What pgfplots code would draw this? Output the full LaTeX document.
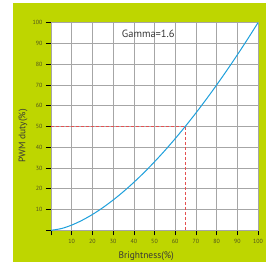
\documentclass[border=0pt]{standalone}
\usepackage{pgfplots}
\pgfplotsset{compat=1.18}
\usepackage{fontspec}
\setmainfont{PT Sans}
\definecolor{bggreen}{RGB}{190,214,0}
\definecolor{curveblue}{RGB}{30,160,220}
\definecolor{dashred}{RGB}{228,80,80}
\definecolor{ticktext}{RGB}{80,82,30}
\definecolor{labeltext}{RGB}{55,55,55}
\begin{document}
\begin{tikzpicture}[x=1bp,y=1bp]
\path[use as bounding box] (0,0) rectangle (266,262);
\fill[white] (0,0) rectangle (266,262);
\fill[bggreen] (13,0) rectangle (266,259);
\begin{axis}[
  at={(51bp,31.7bp)}, anchor=south west,
  width=207bp, height=207.6bp, scale only axis,
  xmin=0, xmax=100, ymin=0, ymax=100,
  xtick={0,10,...,100}, ytick={0,10,...,100},
  xticklabels={,10,20,30,40,50,60,70,80,90,100},
  yticklabels={,10,20,30,40,50,60,70,80,90,100},
  tick pos=left, tick align=outside,
  major tick length=5bp,
  every tick/.style={black, line width=0.6bp},
  tick label style={font=\fontsize{6}{6}\selectfont, text=ticktext},
  /pgf/number format/assume math mode=true,
  grid=major,
  major grid style={draw=black!35, line width=0.6bp},
  axis line style={draw=black!35, line width=0.6bp},
  axis background/.style={fill=white},
  xlabel={Brightness(\%)},
  ylabel={PWM duty(\%)},
  label style={font=\fontsize{9.5}{9.5}\selectfont, text=labeltext},
  xlabel style={at={(rel axis cs:0.46,0)}, anchor=center, yshift=-25.5bp},
  ylabel style={at={(rel axis cs:0,0.455)}, anchor=center, rotate=0, yshift=28bp},
]
\addplot[dashred, line width=0.7bp, dash pattern=on 3bp off 2bp] coordinates {(0,50) (65,50) (65,0)};
\addplot[curveblue, line width=1bp, smooth] coordinates {
(0,0) (5,0.83) (10,2.51) (15,4.81) (20,7.61) (25,10.88) (30,14.57) (35,18.64)
(40,23.08) (45,27.87) (50,32.99) (55,38.42) (60,44.16) (65,50.20) (70,56.51)
(75,63.11) (80,69.98) (85,77.11) (90,84.49) (95,92.12) (100,100)
};
\node[font=\fontsize{10.5}{10.5}\selectfont, text=labeltext] at (axis cs:47,94.5) {Gamma=1.6};
\end{axis}
\end{tikzpicture}
\end{document}
